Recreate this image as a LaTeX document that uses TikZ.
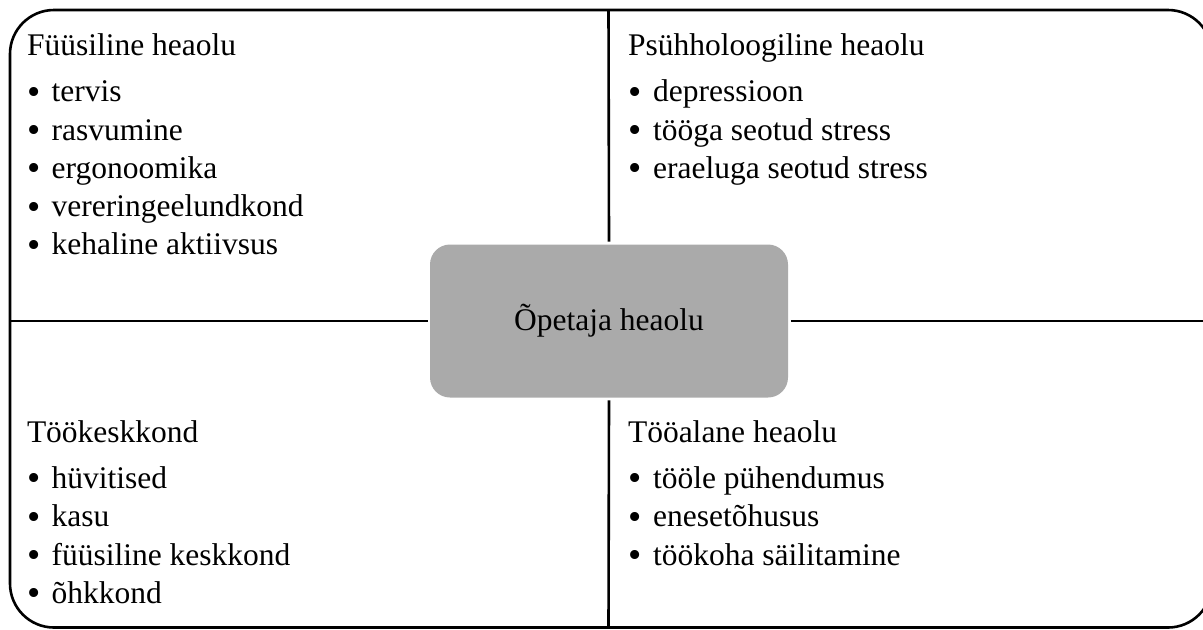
\documentclass[tikz,border=0pt]{standalone}
\usepackage{fontspec}
\setmainfont{Liberation Serif}
\definecolor{boxgray}{RGB}{170,170,170}
\newcommand{\bitem}[1]{\makebox[12.3pt][l]{\raisebox{-1.2pt}{\scalebox{1.2}{•}}}#1}
\begin{document}
\begin{tikzpicture}[x=0.5pt,y=-0.5pt,
  every node/.style={font=\fontsize{15.75pt}{19pt}\selectfont, inner sep=0pt, outer sep=0pt},
  frameline/.style={line width=1.3pt, black},
  txt/.style={anchor=base west},
  centerbox/.style={fill=boxgray, draw=none, rounded corners=10pt, minimum width=179pt, minimum height=76.5pt}]
\path[use as bounding box] (0,0) rectangle (1203,629);
\begin{scope}[overlay]
\clip (0,0) rectangle (1203,629);
\draw[frameline] (1212,54) .. controls (1212,29.7) and (1192.3,10) .. (1168,10)
  -- (54,10) .. controls (29.7,10) and (10,29.7) .. (10,54)
  -- (10,583.5) .. controls (10,607.8) and (29.7,627.5) .. (54,627.5)
  -- (1168,627.5) .. controls (1192.3,627.5) and (1212,607.8) .. (1212,583.5);
\node[centerbox] (c) at (609,321) {Õpetaja heaolu};
\coordinate (ft) at (608.5,10);
\coordinate (fb) at (608.5,627.5);
\coordinate (fl) at (10,321);
\coordinate (fr) at (1212,321);
\draw[frameline, shorten >=1.4pt] (ft) -- (c.north);
\draw[frameline, shorten <=1.4pt] (c.south) -- (fb);
\draw[frameline, shorten >=1.2pt] (fl) -- (c.west);
\draw[frameline, shorten <=1.4pt] (c.east) -- (fr);
\end{scope}
% top-left
\node[txt] (h1) at (27,55) {Füüsiline heaolu};
\node[txt] (a1) at (27,101.7) {\bitem{tervis}};
\node[txt] (a2) at (27,140) {\bitem{rasvumine}};
\node[txt] (a3) at (27,178.3) {\bitem{ergonoomika}};
\node[txt] (a4) at (27,216.6) {\bitem{vereringeelundkond}};
\node[txt] (a5) at (27,254.9) {\bitem{kehaline aktiivsus}};
% top-right
\node[txt] (h2) at (628,55) {Psühholoogiline heaolu};
\node[txt] (b1) at (628.5,101.7) {\bitem{depressioon}};
\node[txt] (b2) at (628.5,140) {\bitem{tööga seotud stress}};
\node[txt] (b3) at (628.5,178.3) {\bitem{eraeluga seotud stress}};
% bottom-left
\node[txt] (h3) at (27,442.5) {Töökeskkond};
\node[txt] (d1) at (27,488.5) {\bitem{hüvitised}};
\node[txt] (d2) at (27,526.8) {\bitem{kasu}};
\node[txt] (d3) at (27,565.1) {\bitem{füüsiline keskkond}};
\node[txt] (d4) at (27,603.4) {\bitem{õhkkond}};
% bottom-right
\node[txt] (h4) at (628,442.5) {Tööalane heaolu};
\node[txt] (e1) at (628.5,488.5) {\bitem{tööle pühendumus}};
\node[txt] (e2) at (628.5,526.8) {\bitem{enesetõhusus}};
\node[txt] (e3) at (628.5,565.1) {\bitem{töökoha säilitamine}};
\end{tikzpicture}
\end{document}
